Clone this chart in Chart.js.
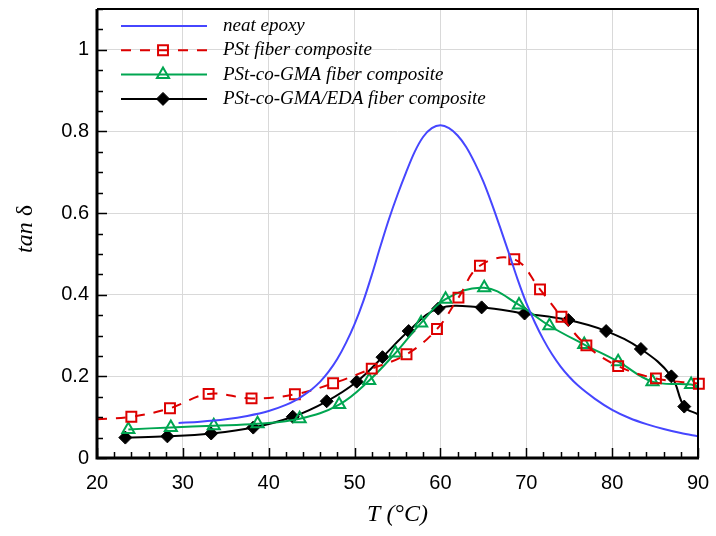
<!DOCTYPE html>
<html>
<head>
<meta charset="utf-8">
<script src="https://cdn.jsdelivr.net/npm/chart.js@4.4.1/dist/chart.umd.min.js"></script>
<style>
  html, body { margin: 0; padding: 0; background: #fff; }
</style>
</head>
<body>
<canvas id="dmaChart" width="716" height="536"></canvas>
<script>
// tan delta vs temperature
var epoxyT   = [29.5, 32, 35, 37.5, 40, 42, 43, 44, 45, 46, 47, 48, 49, 50, 51, 52, 53, 54, 55, 56, 57, 58, 59, 60, 61, 62, 63, 64, 65, 66, 67, 68, 69, 70, 71, 72, 73, 74, 75, 76, 78, 80, 82, 84, 86, 88, 90];
var epoxyTan = [0.086, 0.089, 0.095, 0.103, 0.115, 0.13, 0.14, 0.153, 0.168, 0.187, 0.212, 0.243, 0.282, 0.328, 0.383, 0.448, 0.518, 0.585, 0.645, 0.70, 0.75, 0.787, 0.808, 0.815, 0.808, 0.79, 0.762, 0.723, 0.677, 0.622, 0.562, 0.50, 0.437, 0.38, 0.332, 0.29, 0.254, 0.224, 0.199, 0.178, 0.145, 0.118, 0.098, 0.083, 0.071, 0.061, 0.053];

var pstT   = [20, 24.0, 28.5, 33.0, 38.0, 43.05, 47.5, 52.0, 56.05, 59.6, 62.1, 64.6, 68.6, 71.6, 74.1, 77.0, 80.7, 85.1, 90.1];
var pstTan = [0.095, 0.101, 0.122, 0.157, 0.146, 0.156, 0.183, 0.219, 0.254, 0.316, 0.393, 0.471, 0.487, 0.413, 0.346, 0.276, 0.225, 0.195, 0.182];

var gmaT   = [23.65, 28.6, 33.6, 38.7, 43.6, 48.2, 51.7, 54.75, 57.75, 60.6, 65.1, 69.15, 72.7, 76.75, 80.7, 84.7, 89.2, 90];
var gmaTan = [0.070, 0.075, 0.079, 0.084, 0.096, 0.131, 0.190, 0.257, 0.331, 0.389, 0.417, 0.375, 0.324, 0.278, 0.236, 0.187, 0.180, 0.173];

var edaT   = [23.3, 28.2, 33.3, 38.2, 42.8, 46.75, 50.25, 53.25, 56.3, 59.75, 64.8, 69.8, 74.9, 79.3, 83.35, 86.9, 88.4, 90];
var edaTan = [0.050, 0.053, 0.060, 0.0745, 0.101, 0.139, 0.187, 0.247, 0.311, 0.366, 0.369, 0.354, 0.338, 0.311, 0.267, 0.200, 0.126, 0.107];

var seriesNames = ['neat epoxy', 'PSt fiber composite', 'PSt-co-GMA fiber composite', 'PSt-co-GMA/EDA fiber composite'];
var xTicks = [20, 30, 40, 50, 60, 70, 80, 90];
var yTicks = [0, 0.2, 0.4, 0.6, 0.8, 1];

function toPoints(xs, ys) {
    return xs.map(function (x, i) { return { x: x, y: ys[i] }; });
}

// marker on every point except the line-only ends
function radii(n, r, skipFirst, skipLast) {
    var out = [];
    for (var i = 0; i < n; i++) out.push(r);
    if (skipFirst) out[0] = 0;
    if (skipLast) out[n - 1] = 0;
    return out;
}

var serif = "'Liberation Serif', 'Times New Roman', serif";
var sans = "'Liberation Sans', Arial, sans-serif";

// inward ticks + frame, Tecplot style
var frameTicks = {
    id: 'frameTicks',
    afterDatasetsDraw: function (chart) {
        var ctx = chart.ctx, a = chart.chartArea;
        var xs = chart.scales.x, ys = chart.scales.y;
        ctx.save();
        ctx.strokeStyle = '#000';
        ctx.lineWidth = 1.5;
        ctx.beginPath();
        for (var t = 20; t <= 90.001; t += 2) {
            var px = Math.round(xs.getPixelForValue(t)) + 0.5;
            var len = (Math.round(t) % 10 === 0) ? 10 : 6;
            ctx.moveTo(px, a.bottom);
            ctx.lineTo(px, a.bottom - len);
        }
        for (var k = 0; k <= 22; k++) {
            var v = k * 0.05;
            var py = Math.round(ys.getPixelForValue(v)) + 0.5;
            var l2 = (k % 4 === 0) ? 10 : 6;
            ctx.moveTo(a.left, py);
            ctx.lineTo(a.left + l2, py);
        }
        ctx.stroke();

        ctx.lineWidth = 2;
        ctx.beginPath();
        ctx.moveTo(a.left, a.top);
        ctx.lineTo(a.right, a.top);
        ctx.lineTo(a.right, a.bottom);
        ctx.stroke();
        ctx.lineWidth = 3;
        ctx.beginPath();
        ctx.moveTo(a.left, a.top);
        ctx.lineTo(a.left, a.bottom);
        ctx.lineTo(a.right + 1, a.bottom);
        ctx.stroke();
        ctx.restore();
    }
};

// y title: italic "tan", upright delta
var yTitle = {
    id: 'yTitle',
    afterDraw: function (chart) {
        var ctx = chart.ctx;
        ctx.save();
        ctx.translate(26, 229);
        ctx.rotate(-Math.PI / 2);
        ctx.fillStyle = '#000';
        ctx.textBaseline = 'middle';
        ctx.font = 'italic 24px ' + serif;
        var w1 = ctx.measureText('tan ').width;
        ctx.font = '24px ' + serif;
        var w2 = ctx.measureText('δ').width;
        var x0 = -(w1 + w2) / 2;
        ctx.textAlign = 'left';
        ctx.font = 'italic 24px ' + serif;
        ctx.fillText('tan ', x0, 0);
        ctx.font = '24px ' + serif;
        ctx.fillText('δ', x0 + w1, 0);
        ctx.restore();
    }
};

// legend box in the upper left, line sample with marker in the middle
var lineLegend = {
    id: 'lineLegend',
    afterDraw: function (chart) {
        var ctx = chart.ctx;
        chart.data.datasets.forEach(function (ds, i) {
            var y = 26 + i * 24.3;
            ctx.save();
            ctx.strokeStyle = ds.borderColor;
            ctx.lineWidth = ds.borderWidth;
            ctx.setLineDash(ds.borderDash || []);
            ctx.beginPath();
            ctx.moveTo(121, y);
            ctx.lineTo(207, y);
            ctx.stroke();
            ctx.setLineDash([]);
            if (ds.legendMarker) {
                ctx.strokeStyle = ds.pointBorderColor;
                ctx.fillStyle = ds.pointBackgroundColor;
                ctx.lineWidth = ds.pointBorderWidth;
                Chart.helpers.drawPoint(ctx, {
                    pointStyle: ds.pointStyle,
                    radius: ds.legendMarker,
                    rotation: 0,
                    borderWidth: ds.pointBorderWidth
                }, 163, y);
            }
            ctx.fillStyle = '#000';
            ctx.font = 'italic 19px ' + serif;
            ctx.textBaseline = 'middle';
            ctx.textAlign = 'left';
            ctx.fillText(seriesNames[i], 223, y);
            ctx.restore();
        });
    }
};

var ctx = document.getElementById('dmaChart').getContext('2d');
var dmaChart = new Chart(ctx, {
    type: 'scatter',
    data: {
        datasets: [{
            label: seriesNames[0],
            data: toPoints(epoxyT, epoxyTan),
            showLine: true,
            borderColor: '#4646ff',
            borderWidth: 2,
            pointRadius: 0,
            cubicInterpolationMode: 'monotone',
            clip: 8
        }, {
            label: seriesNames[1],
            data: toPoints(pstT, pstTan),
            showLine: true,
            borderColor: '#dd0000',
            borderWidth: 2,
            borderDash: [10, 9],
            tension: 0.4,
            pointStyle: 'rect',
            pointRadius: radii(pstT.length, 7, true, false),
            pointBorderColor: '#dd0000',
            pointBackgroundColor: 'rgba(0,0,0,0)',
            pointBorderWidth: 2,
            legendMarker: 7,
            clip: 8
        }, {
            label: seriesNames[2],
            data: toPoints(gmaT, gmaTan),
            showLine: true,
            borderColor: '#00a651',
            borderWidth: 2,
            tension: 0.4,
            pointStyle: 'triangle',
            pointRadius: radii(gmaT.length, 7, false, true),
            pointBorderColor: '#00a651',
            pointBackgroundColor: 'rgba(0,0,0,0)',
            pointBorderWidth: 2,
            legendMarker: 7,
            clip: 8
        }, {
            label: seriesNames[3],
            data: toPoints(edaT, edaTan),
            showLine: true,
            borderColor: '#000000',
            borderWidth: 2,
            tension: 0.4,
            pointStyle: 'rectRot',
            pointRadius: radii(edaT.length, 6.5, false, true),
            pointBorderColor: '#000000',
            pointBackgroundColor: '#000000',
            pointBorderWidth: 1,
            legendMarker: 6.5,
            clip: 8
        }]
    },
    options: {
        responsive: false,
        animation: false,
        events: [],
        layout: { padding: { top: 8, right: 18, left: 0, bottom: 0 } },
        plugins: {
            legend: { display: false },
            tooltip: { enabled: false }
        },
        scales: {
            x: {
                type: 'linear',
                min: 20,
                max: 90,
                afterFit: function (s) { s.height = 78; s.paddingLeft = 0; s.paddingRight = 0; },
                afterBuildTicks: function (s) { s.ticks = xTicks.map(function (v) { return { value: v }; }); },
                grid: { color: '#d9d9d9', lineWidth: 1, drawTicks: false },
                border: { display: false },
                ticks: { color: '#000', padding: 13, maxRotation: 0, font: { family: sans, size: 20 },
                         callback: function (v) { return String(v); } },
                title: { display: true, text: 'T (°C)', color: '#000', padding: { top: 0, bottom: 7 }, font: { family: serif, size: 24, style: 'italic' } }
            },
            y: {
                type: 'linear',
                min: 0,
                max: 1.1,
                afterFit: function (s) { s.width = 97; s.paddingTop = 0; s.paddingBottom = 0; },
                afterBuildTicks: function (s) { s.ticks = yTicks.map(function (v) { return { value: v }; }); },
                grid: { color: '#d9d9d9', lineWidth: 1, drawTicks: false },
                border: { display: false },
                ticks: { color: '#000', padding: 8, font: { family: sans, size: 20 },
                         callback: function (v) { return String(v); } },
                title: { display: false }
            }
        }
    },
    plugins: [frameTicks, lineLegend, yTitle]
});
</script>
</body>
</html>
